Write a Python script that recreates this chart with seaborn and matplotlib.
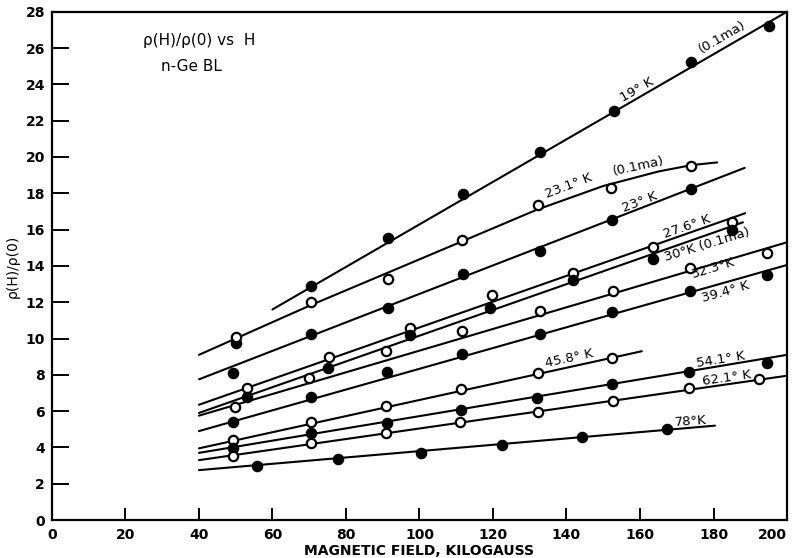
import matplotlib
matplotlib.use("Agg")
import matplotlib.pyplot as plt
import seaborn as sns

# measured points: magnetic field (kG) and rho(H)/rho(0)
h19 = [50, 70.5, 91.4, 111.8, 132.8, 153, 174, 195]
r19 = [9.75, 12.9, 15.55, 17.95, 20.25, 22.55, 25.25, 27.2]
h231 = [50, 70.5, 91.5, 111.5, 132.3, 152, 174]
r231 = [10.1, 12.0, 13.3, 15.4, 17.35, 18.3, 19.5]
h23 = [49.2, 70.5, 91.5, 111.8, 132.8, 152.4, 174]
r23 = [8.1, 10.25, 11.7, 13.55, 14.8, 16.5, 18.25]
h276 = [53, 75.4, 97.4, 119.8, 141.7, 163.5, 185]
r276 = [7.3, 9.0, 10.6, 12.4, 13.6, 15.05, 16.4]
h30 = [53, 75.2, 97.4, 119.2, 141.7, 163.5, 185]
r30 = [6.8, 8.4, 10.2, 11.7, 13.2, 14.4, 16.0]
h323 = [49.8, 70, 91, 111.5, 132.8, 152.7, 173.6, 194.6]
r323 = [6.2, 7.8, 9.3, 10.4, 11.5, 12.6, 13.9, 14.7]
h394 = [49.3, 70.5, 91.2, 111.5, 132.8, 152.4, 173.6, 194.6]
r394 = [5.4, 6.8, 8.15, 9.15, 10.25, 11.45, 12.6, 13.5]
h458 = [49.2, 70.5, 91, 111.2, 132.3, 152.4]
r458 = [4.4, 5.4, 6.3, 7.2, 8.1, 8.9]
h541 = [49.2, 70.5, 91.2, 111.2, 131.9, 152.4, 173.2, 194.6]
r541 = [3.95, 4.8, 5.35, 6.05, 6.7, 7.5, 8.15, 8.65]
h621 = [49.2, 70.5, 91, 111, 132.3, 152.6, 173.4, 192.4]
r621 = [3.55, 4.25, 4.8, 5.4, 5.95, 6.55, 7.25, 7.75]
h78 = [55.8, 77.8, 100.3, 122.5, 144.3, 167.3]
r78 = [3.0, 3.35, 3.7, 4.15, 4.55, 5.0]

# hand-drawn fit curves
c19_h, c19_r = [60, 200], [11.6, 28.0]
c231_h = [40, 70, 111, 132, 150, 165, 174, 181]
c231_r = [9.1, 11.8, 15.3, 17.1, 18.4, 19.2, 19.55, 19.7]
c23_h, c23_r = [40, 188.5], [7.75, 19.4]
c276_h, c276_r = [40, 188.6], [6.35, 16.9]
c30_h, c30_r = [40, 188], [5.9, 16.4]
c323_h, c323_r = [40, 200], [5.75, 15.3]
c394_h, c394_r = [40, 200], [4.9, 14.05]
c458_h, c458_r = [40, 160.5], [3.95, 9.3]
c541_h, c541_r = [40, 200], [3.7, 9.1]
c621_h, c621_r = [40, 200], [3.3, 7.95]
c78_h, c78_r = [40, 180.4], [2.75, 5.2]

points = [(h19, r19, True), (h231, r231, False), (h23, r23, True),
          (h276, r276, False), (h30, r30, True), (h323, r323, False),
          (h394, r394, True), (h458, r458, False), (h541, r541, True),
          (h621, r621, False), (h78, r78, True)]
curves = [(c19_h, c19_r), (c231_h, c231_r), (c23_h, c23_r), (c276_h, c276_r),
          (c30_h, c30_r), (c323_h, c323_r), (c394_h, c394_r), (c458_h, c458_r),
          (c541_h, c541_r), (c621_h, c621_r), (c78_h, c78_r)]

sns.set_style("ticks")
plt.rcParams['font.family'] = ['DejaVu Sans']
plt.rcParams.update({'text.color': 'black', 'axes.labelcolor': 'black',
                     'xtick.color': 'black', 'ytick.color': 'black',
                     'axes.edgecolor': 'black'})

fig = plt.figure(figsize=(7.99, 5.58), dpi=100)
ax = fig.add_axes([0.065, 0.068, 0.92, 0.911])

for ch, cr in curves:
    sns.lineplot(x=ch, y=cr, ax=ax, color='black', lw=1.5, sort=False,
                 estimator=None, zorder=2)

for h, r, filled in points:
    sns.scatterplot(x=h, y=r, ax=ax, s=45, zorder=3,
                    facecolor='black' if filled else 'white',
                    edgecolor='black', linewidth=1.6)

# curve labels
labels = [
    ("19° K", 159.2, 23.7, 30), ("(0.1ma)", 182.3, 26.6, 30),
    ("23.1° K", 140.7, 18.4, 21), ("(0.1ma)", 159.5, 19.5, 12),
    ("23° K", 160, 17.5, 21), ("27.6° K", 172.8, 16.15, 19),
    ("30°K (0.1ma)", 178.2, 15.15, 17), ("32.3°K", 180, 13.9, 17),
    ("39.4° K", 183.4, 12.55, 16), ("45.8° K", 140.7, 8.9, 12),
    ("54.1° K", 182, 8.85, 9), ("62.1° K", 183.7, 7.8, 8),
    ("78°K", 173.9, 5.45, 4),
]
for txt, x, y, rot in labels:
    ax.text(x, y, txt, rotation=rot, ha='center', va='center',
            fontsize=9.5, rotation_mode='anchor')

ax.text(24.8, 26.4, "ρ(H)/ρ(0) vs  H", fontsize=11, va='center', ha='left')
ax.text(37.9, 25.0, "n-Ge BL", fontsize=11, va='center', ha='center')

ax.set_xlim(0, 200)
ax.set_ylim(0, 28)
ax.set_xticks(range(0, 201, 20))
ax.set_yticks(range(0, 29, 2))
ax.tick_params(axis='x', direction='in', length=9, width=1.4, labelsize=10, pad=6)
ax.tick_params(axis='y', direction='in', length=12, width=1.4, labelsize=10, pad=5)
for lab in ax.get_xticklabels() + ax.get_yticklabels():
    lab.set_fontweight('bold')
ax.get_xticklabels()[-1].set_horizontalalignment('right')
for sp in ax.spines.values():
    sp.set_visible(True)
    sp.set_linewidth(1.6)

ax.set_xlabel("MAGNETIC FIELD, KILOGAUSS", fontsize=10, fontweight='bold', labelpad=1)
ax.set_ylabel("ρ(H)/ρ(0)", fontsize=10, labelpad=4)

fig.savefig("out.png", dpi=100)
